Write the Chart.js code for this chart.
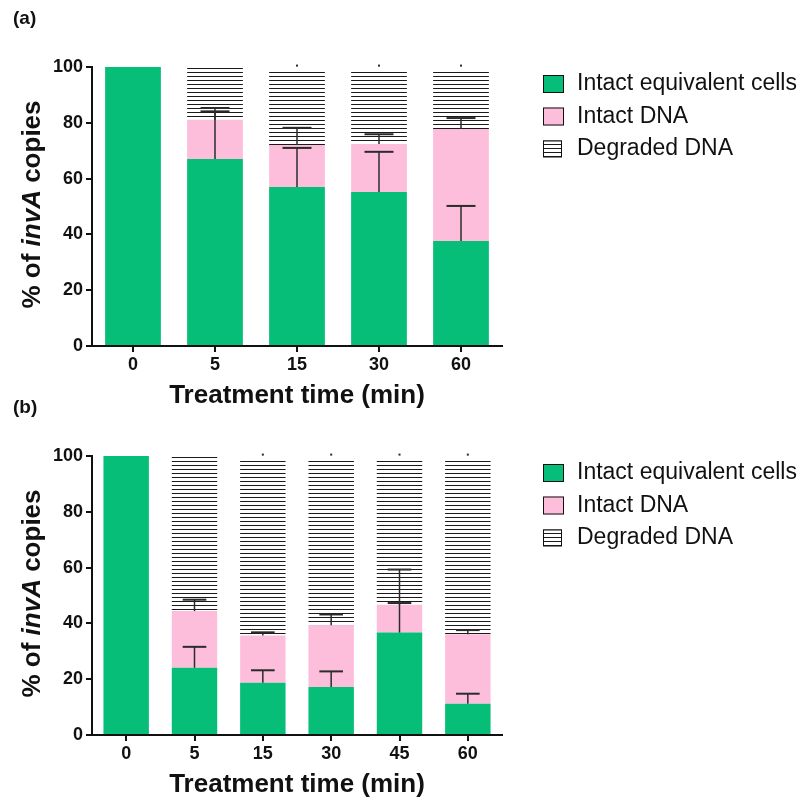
<!DOCTYPE html>
<html>
<head>
<meta charset="utf-8">
<title>invA copies after treatment</title>
<script src="https://cdn.jsdelivr.net/npm/chart.js@4.4.1/dist/chart.umd.min.js"></script>
<style>
  html, body { margin: 0; padding: 0; background: #fff; overflow: hidden; }
  #wrap { position: relative; width: 806px; height: 800px; }
  canvas { position: absolute; left: 0; }
  #chartA { top: 0; }
  #chartB { top: 389px; }
</style>
</head>
<body>
<div id="wrap">
  <canvas id="chartA" width="806" height="411"></canvas>
  <canvas id="chartB" width="806" height="411"></canvas>
</div>
<script>
// panel (a)
var timesA = ["0", "5", "15", "30", "60"];
var cellsA = [100, 67.0, 57.0, 55.2, 37.6];
var dnaA = [0, 14.1, 15.0, 17.2, 40.2];
var degradedA = [0, 18.9, 26.8, 26.4, 21.0];
var cellsErrA = [0, 18.3, 14.0, 14.4, 12.6];
var dnaErrA = [0, 3.0, 6.2, 3.5, 3.9];
var degradedErrA = [0, 0, 1.7, 1.7, 1.7];

// panel (b)
var timesB = ["0", "5", "15", "30", "45", "60"];
var cellsB = [100, 24.1, 18.7, 17.2, 36.7, 11.2];
var dnaB = [0, 20.3, 17.0, 22.1, 10.0, 24.9];
var degradedB = [0, 55.6, 63.1, 59.5, 52.1, 62.7];
var cellsErrB = [0, 7.5, 4.5, 5.6, 10.6, 3.6];
var dnaErrB = [0, 4.1, 1.1, 3.9, 12.6, 1.5];
var degradedErrB = [0, 0, 1.7, 1.7, 1.7, 1.7];

var yTicks = [0, 20, 40, 60, 80, 100];
var seriesNames = ["Intact equivalent cells", "Intact DNA", "Degraded DNA"];

var FAMILY = '"Liberation Sans", Arial, Helvetica, sans-serif';
var INK = "#111";

// white tile with one dark line -> horizontal hatching
function hatch(ctx) {
  var tile = document.createElement("canvas");
  tile.width = 4;
  tile.height = 4;
  var t = tile.getContext("2d");
  t.fillStyle = "#fff";
  t.fillRect(0, 0, 4, 4);
  t.fillStyle = "#1a1a1a";
  t.fillRect(0, 0, 4, 1);
  return ctx.createPattern(tile, "repeat");
}

// one-sided (upward) error bars on top of each stacked segment
var errorBars = {
  id: "errorBars",
  afterDatasetsDraw: function (chart, args, opts) {
    var ctx = chart.ctx;
    var yScale = chart.scales.y;
    var sets = chart.data.datasets;
    ctx.save();
    ctx.strokeStyle = "#2b2b2b";
    ctx.fillStyle = "#2b2b2b";
    sets.forEach(function (ds, d) {
      var errs = opts.errors[d];
      chart.getDatasetMeta(d).data.forEach(function (bar, i) {
        if (!errs[i]) return;
        var top = 0;
        for (var k = 0; k <= d; k++) top += sets[k].data[i];
        var y0 = yScale.getPixelForValue(top);
        var y1 = yScale.getPixelForValue(top + errs[i]);
        if (d === 2) {
          ctx.fillRect(bar.x - 1, y1 - 1, 2, 2);
          return;
        }
        var half = bar.width * 0.26;
        ctx.lineWidth = 1.5;
        ctx.beginPath();
        ctx.moveTo(bar.x, y0);
        ctx.lineTo(bar.x, y1);
        ctx.stroke();
        ctx.lineWidth = 2;
        ctx.beginPath();
        ctx.moveTo(bar.x - half, y1);
        ctx.lineTo(bar.x + half, y1);
        ctx.stroke();
      });
    });
    ctx.restore();
  }
};

// legend to the right of the plot
var sideLegend = {
  id: "sideLegend",
  afterDraw: function (chart) {
    var ctx = chart.ctx;
    var area = chart.chartArea;
    ctx.save();
    ctx.font = "23px " + FAMILY;
    ctx.textBaseline = "middle";
    ctx.textAlign = "left";
    chart.data.datasets.forEach(function (ds, i) {
      var x = area.right + 41;
      var cy = area.top + 17 + i * 32.5;
      var w = i === 2 ? 19 : 21;
      var h = i === 2 ? 17 : 18;
      ctx.fillStyle = ds.backgroundColor;
      ctx.fillRect(x, cy - h / 2, w, h);
      ctx.strokeStyle = INK;
      ctx.lineWidth = 1;
      ctx.strokeRect(x + 0.5, cy - h / 2 + 0.5, w - 1, h - 1);
      ctx.fillStyle = INK;
      ctx.fillText(ds.label, area.right + 75, cy);
    });
    ctx.restore();
  }
};

// panel tag and the rotated y title with the italic gene name
var panelText = {
  id: "panelText",
  afterDraw: function (chart, args, opts) {
    var ctx = chart.ctx;
    var area = chart.chartArea;
    ctx.save();
    ctx.fillStyle = INK;
    ctx.textBaseline = "middle";
    ctx.textAlign = "left";
    ctx.font = "bold 19px " + FAMILY;
    ctx.fillText(opts.tag, 13, 19);

    var parts = [["% of ", "bold"], ["invA", "italic bold"], [" copies", "bold"]];
    var total = 0;
    parts.forEach(function (p) {
      ctx.font = p[1] + " 26px " + FAMILY;
      p.w = ctx.measureText(p[0]).width;
      total += p.w;
    });
    ctx.translate(33, (area.top + area.bottom) / 2 - 2);
    ctx.rotate(-Math.PI / 2);
    var x = -total / 2;
    parts.forEach(function (p) {
      ctx.font = p[1] + " 26px " + FAMILY;
      ctx.fillText(p[0], x, 0);
      x += p.w;
    });
    ctx.restore();
  }
};

function axisGrid() {
  return { drawOnChartArea: false, drawTicks: true, tickLength: 6, color: INK, lineWidth: 2, offset: false };
}

function buildChart(id, times, cells, dna, degraded, errors, barPct, tag) {
  var ctx = document.getElementById(id).getContext("2d");
  return new Chart(ctx, {
    type: "bar",
    data: {
      labels: times,
      datasets: [
        { label: seriesNames[0], data: cells, backgroundColor: "#06BE78" },
        { label: seriesNames[1], data: dna, backgroundColor: "#FDBEDC" },
        { label: seriesNames[2], data: degraded, backgroundColor: hatch(ctx) },
      ],
    },
    options: {
      responsive: false,
      animation: false,
      layout: { padding: { top: 67, right: 304, bottom: 0, left: 0 } },
      datasets: {
        bar: { categoryPercentage: 1, barPercentage: barPct, borderWidth: 0 },
      },
      plugins: {
        legend: { display: false },
        tooltip: { enabled: false },
        errorBars: { errors: errors },
        panelText: { tag: tag },
      },
      scales: {
        x: {
          stacked: true,
          grid: axisGrid(),
          border: { display: true, color: INK, width: 2 },
          ticks: { color: INK, padding: 2, font: { family: FAMILY, size: 18, weight: "bold" } },
          title: {
            display: true,
            text: "Treatment time (min)",
            color: INK,
            padding: 0,
            font: { family: FAMILY, size: 26, weight: "bold", lineHeight: 1.15 },
          },
          afterFit: function (scale) {
            scale.height = 65;
          },
        },
        y: {
          stacked: true,
          min: 0,
          max: 100,
          grid: axisGrid(),
          border: { display: true, color: INK, width: 2 },
          ticks: { color: INK, padding: 3, font: { family: FAMILY, size: 18, weight: "bold" } },
          afterBuildTicks: function (scale) {
            scale.ticks = yTicks.map(function (v) { return { value: v }; });
          },
          afterFit: function (scale) {
            scale.width = 92;
          },
        },
      },
    },
    plugins: [errorBars, sideLegend, panelText],
  });
}

buildChart("chartA", timesA, cellsA, dnaA, degradedA,
  [cellsErrA, dnaErrA, degradedErrA], 0.68, "(a)");
buildChart("chartB", timesB, cellsB, dnaB, degradedB,
  [cellsErrB, dnaErrB, degradedErrB], 0.665, "(b)");
</script>
</body>
</html>
